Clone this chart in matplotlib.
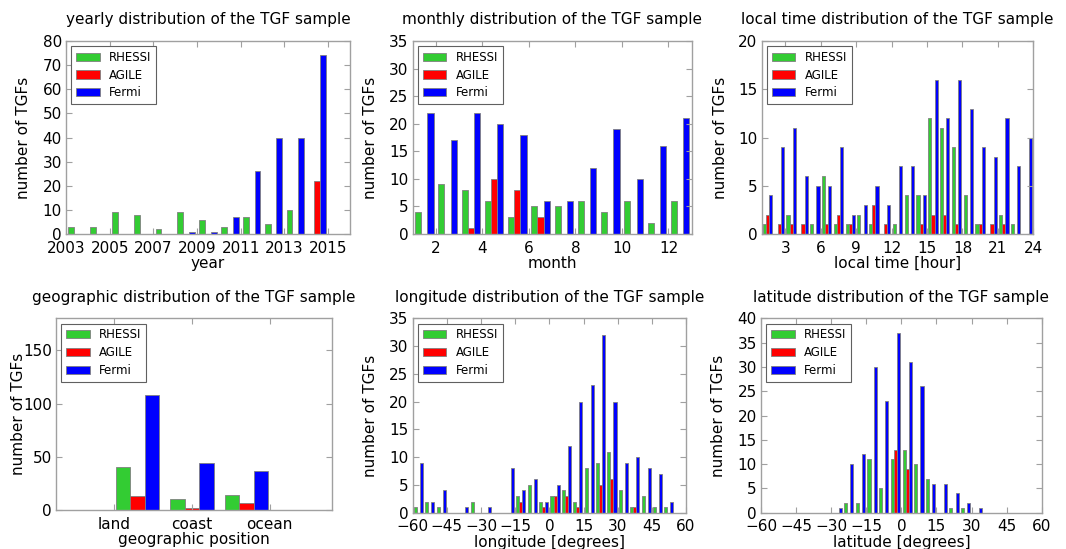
import numpy as np
import matplotlib
matplotlib.use("Agg")
import matplotlib.pyplot as plt
from matplotlib.transforms import blended_transform_factory

# ---------------- data ----------------
series_labels = ["RHESSI", "AGILE", "Fermi"]
series_colors = ["#33cc33", "#ff0000", "#0000ff"]

# yearly (bins 2003..2016)
year_edges = list(range(2003, 2017))
year_rhessi = [3, 3, 9, 8, 2, 9, 6, 3, 7, 4, 10, 0, 0]
year_agile = [0, 0, 0, 0, 0, 0, 0, 0, 0, 0, 0, 22, 0]
year_fermi = [0, 0, 0, 0, 0, 1, 1, 7, 26, 40, 40, 74, 0]

# monthly (bins 1..13)
month_edges = list(range(1, 14))
month_rhessi = [4, 9, 8, 6, 3, 5, 5, 6, 4, 6, 2, 6]
month_agile = [0, 0, 1, 10, 8, 3, 0, 0, 0, 0, 0, 0]
month_fermi = [22, 17, 22, 20, 18, 6, 6, 12, 19, 10, 16, 21]

# local time (bins 1..24)
lt_edges = list(range(1, 25))
lt_rhessi = [1, 0, 2, 0, 1, 6, 1, 1, 2, 1, 0, 1, 4, 4, 12, 11, 9, 4, 1, 0, 2, 1, 0]
lt_agile = [2, 1, 1, 1, 0, 1, 2, 1, 0, 3, 1, 0, 0, 1, 2, 2, 1, 0, 1, 1, 1, 0, 0]
lt_fermi = [4, 9, 11, 6, 5, 5, 9, 2, 3, 5, 3, 7, 7, 4, 16, 12, 16, 13, 9, 8, 12, 7, 10]

# geographic position
geo_categories = ["land", "coast", "ocean"]
geo_rhessi = [40, 10, 14]
geo_agile = [13, 2, 7]
geo_fermi = [108, 44, 37]

# longitude (5 degree bins from -60 to 60)
lon_edges = list(range(-60, 61, 5))
lon_rhessi = [1, 2, 1, 0, 0, 2, 0, 0, 0, 3, 5, 2, 3, 4, 2, 8, 9, 11, 4, 1, 3, 1, 1, 0]
lon_agile = [0, 0, 0, 0, 0, 0, 0, 0, 0, 2, 0, 1, 3, 3, 1, 0, 5, 6, 0, 1, 0, 0, 0, 0]
lon_fermi = [9, 2, 4, 0, 1, 0, 1, 0, 8, 4, 6, 2, 5, 12, 20, 23, 32, 20, 9, 10, 8, 7, 2, 0]

# latitude (5 degree bins from -60 to 60)
lat_edges = list(range(-60, 61, 5))
lat_rhessi = [0, 0, 0, 0, 0, 0, 0, 2, 2, 11, 5, 11, 13, 10, 7, 0, 1, 1, 0, 0, 0, 0, 0, 0]
lat_agile = [0, 0, 0, 0, 0, 0, 0, 0, 0, 0, 0, 13, 9, 0, 0, 0, 0, 0, 0, 0, 0, 0, 0, 0]
lat_fermi = [0, 0, 0, 0, 0, 0, 1, 10, 12, 30, 23, 37, 31, 26, 6, 6, 4, 2, 1, 0, 0, 0, 0, 0]

# ---------------- style ----------------
plt.rcParams.update({
    "font.family": ["DejaVu Sans"],
    "font.size": 11,
    "axes.edgecolor": "#a0a0a0",
    "axes.linewidth": 1.0,
    "xtick.direction": "in",
    "ytick.direction": "in",
    "xtick.top": True,
    "ytick.right": True,
    "xtick.color": "#a0a0a0",
    "ytick.color": "#a0a0a0",
    "xtick.labelcolor": "black",
    "ytick.labelcolor": "black",
    "xtick.major.size": 4,
    "ytick.major.size": 4,
    "xtick.major.pad": 4.8,
    "ytick.major.pad": 3,
    "axes.titlesize": 11,
    "axes.labelsize": 11,
})

W, H = 1066, 549
fig = plt.figure(figsize=(W / 100, H / 100), dpi=100)


def px_axes(l, t, r, b):
    return fig.add_axes([l / W, 1 - b / H, (r - l) / W, (b - t) / H])


def hist3(ax, edges, counts):
    edges = np.asarray(edges, dtype=float)
    centers = 0.5 * (edges[:-1] + edges[1:])
    ax.hist([centers] * 3, bins=edges, weights=counts, color=series_colors,
            label=series_labels, edgecolor="#808080", linewidth=0.6)


def finish(ax, title, xlabel, ylim, yticks, ylab_right_px):
    ax.set_title(title, pad=12)
    ax.set_xlabel(xlabel, labelpad=0.3)
    ax.set_ylabel("number of TGFs")
    ax.yaxis.set_label_coords(ylab_right_px / W, 0.5,
                              transform=blended_transform_factory(fig.transFigure, ax.transAxes))
    ax.set_ylim(*ylim)
    ax.set_yticks(yticks)
    leg = ax.legend(loc="upper left", fontsize=8.5, fancybox=False,
                    handlelength=2.0, handleheight=0.7, labelspacing=0.4,
                    borderpad=0.4, handletextpad=0.8, borderaxespad=0.45,
                    framealpha=1.0)
    leg.get_frame().set_edgecolor("#606060")
    leg.get_frame().set_linewidth(0.8)


# panel 1: yearly
ax = px_axes(66, 41, 350, 234)
hist3(ax, year_edges, [year_rhessi, year_agile, year_fermi])
ax.set_xlim(2003, 2016)
ax.set_xticks(range(2003, 2016, 2))
finish(ax, "yearly distribution of the TGF sample", "year", (0, 80), range(0, 81, 10), 31)

# panel 2: monthly
ax = px_axes(412.7, 41, 691.7, 234)
hist3(ax, month_edges, [month_rhessi, month_agile, month_fermi])
ax.set_xlim(1, 13)
ax.set_xticks(range(2, 13, 2))
finish(ax, "monthly distribution of the TGF sample", "month", (0, 35), range(0, 36, 5), 378)

# panel 3: local time
ax = px_axes(761.7, 41, 1033.3, 234)
hist3(ax, lt_edges, [lt_rhessi, lt_agile, lt_fermi])
ax.set_xlim(1, 24)
ax.set_xticks(range(3, 25, 3))
finish(ax, "local time distribution of the TGF sample", "local time [hour]", (0, 20), range(0, 21, 5), 728)

# panel 4: geographic position
ax = px_axes(56, 318.3, 331.7, 510)
geo_edges = np.linspace(0.25, 3.75, 6)
pad0 = [0]
hist3(ax, geo_edges, [pad0 + geo_rhessi + pad0, pad0 + geo_agile + pad0, pad0 + geo_fermi + pad0])
ax.set_xlim(0.25, 3.8)
ax.set_xticks(range(1, len(geo_categories) + 1))
ax.set_xticklabels(geo_categories)
finish(ax, "geographic distribution of the TGF sample", "geographic position", (0, 180), range(0, 151, 50), 26)

# panel 5: longitude
ax = px_axes(412.7, 318.3, 686, 512.7)
hist3(ax, lon_edges, [lon_rhessi, lon_agile, lon_fermi])
ax.set_xlim(-60, 60)
ax.set_xticks(range(-60, 61, 15))
finish(ax, "longitude distribution of the TGF sample", "longitude [degrees]", (0, 35), range(0, 36, 5), 378)

# panel 6: latitude
ax = px_axes(761, 318.3, 1041.7, 512.7)
hist3(ax, lat_edges, [lat_rhessi, lat_agile, lat_fermi])
ax.set_xlim(-60, 60)
ax.set_xticks(range(-60, 61, 15))
finish(ax, "latitude distribution of the TGF sample", "latitude [degrees]", (0, 40), range(0, 41, 5), 726)

fig.savefig("out.png", dpi=100, facecolor="white")
